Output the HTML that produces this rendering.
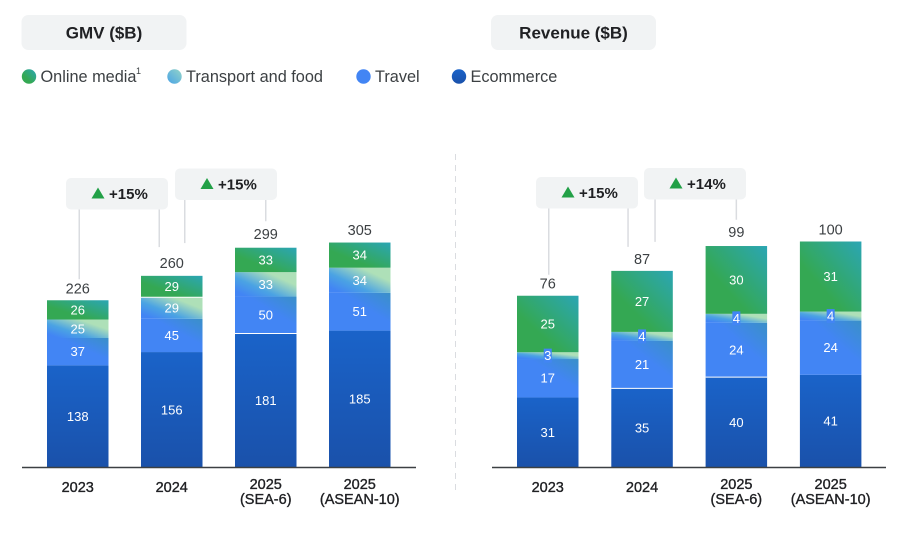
<!DOCTYPE html>
<html>
<head>
<meta charset="utf-8">
<title>GMV and Revenue by sector</title>
<style>
html,body{margin:0;padding:0;background:#fff;}
svg{display:block;font-family:"Liberation Sans",sans-serif;}
</style>
</head>
<body>
<svg id="chart" xmlns="http://www.w3.org/2000/svg" width="907" height="538" viewBox="0 0 907 538">
  <defs>
    <linearGradient id="g-media" x1="0" y1="1" x2="1" y2="0"><stop offset="0.35" stop-color="#34a853"/><stop offset="1" stop-color="#2ba6b4"/></linearGradient>
    <linearGradient id="g-transport" x1="0.2" y1="1" x2="1" y2="0.3"><stop offset="0" stop-color="#4285f4"/><stop offset="0.35" stop-color="#4ba3e3"/><stop offset="0.85" stop-color="#aee0b8"/></linearGradient>
    <linearGradient id="g-transport-dot" x1="0" y1="1" x2="1" y2="0"><stop offset="0" stop-color="#4aa3e6"/><stop offset="1" stop-color="#93d4c8"/></linearGradient>
    <linearGradient id="g-travel" x1="0" y1="1" x2="1" y2="0"><stop offset="0.6" stop-color="#4285f4"/><stop offset="1" stop-color="#3a90c8"/></linearGradient>
    <linearGradient id="g-ecom" x1="0" y1="0" x2="0" y2="1"><stop offset="0" stop-color="#1a63c9"/><stop offset="1" stop-color="#1a51aa"/></linearGradient>
  </defs>
</svg>
<script>
// Shared categories
const categories = [["2023"], ["2024"], ["2025", "(SEA-6)"], ["2025", "(ASEAN-10)"]];
const seriesNames = ["Ecommerce", "Travel", "Transport and food", "Online media"];

// GMV ($B)
const gmvEcommerce = [138, 156, 181, 185];
const gmvTravel = [37, 45, 50, 51];
const gmvTransport = [25, 29, 33, 34];
const gmvMedia = [26, 29, 33, 34];
const gmvTotals = [226, 260, 299, 305];
const gmvGrowth = ["+15%", "+15%"];

// Revenue ($B)
const revEcommerce = [31, 35, 40, 41];
const revTravel = [17, 21, 24, 24];
const revTransport = [3, 4, 4, 4];
const revMedia = [25, 27, 30, 31];
const revTotals = [76, 87, 99, 100];
const revGrowth = ["+15%", "+14%"];

const NS = "http://www.w3.org/2000/svg";
const svg = document.getElementById("chart");
const fills = ["url(#g-ecom)", "url(#g-travel)", "url(#g-transport)", "url(#g-media)"];
const dotFills = ["url(#g-ecom)", "#4285f4", "url(#g-transport-dot)", "url(#g-media)"];
const slugs = ["ecommerce", "travel", "transport-food", "online-media"];
const baseY = 467.5;
const BW = 61.5;

function mk(tag, props, text) {
  const el = document.createElementNS(NS, tag);
  for (const k in props) el.setAttribute(k, props[k]);
  if (text !== undefined) el.textContent = text;
  svg.appendChild(el);
  return el;
}

function drawPanel(cfg) {
  const y = v => baseY - v * cfg.scale;
  const x = i => cfg.x0 + i * cfg.step;
  const cx = i => x(i) + BW / 2;

  const title = mk("rect", {x: cfg.titleX, y: 15, width: 165, height: 35, rx: 7, fill: "#f1f3f4"});
  
  
  const titleText = mk("text", {x: cfg.titleX + 82.5, y: 38.5, "text-anchor": "middle", "font-size": 17, "font-weight": 700, fill: "#202124"}, cfg.title);
  
  

  // connector lines and growth callouts
  cfg.growth.forEach((label, g) => {
    const box = cfg.boxes[g];
    [[g, box.dxA, box.gapA], [g + 1, box.dxB, box.gapB]].forEach(([idx, dx, gap]) => {
      const ln = mk("line", {x1: cx(idx) + dx, x2: cx(idx) + dx, y1: box.y + 31, y2: y(cfg.totals[idx]) - gap, stroke: "#dadce0", "stroke-width": 1.5});
      
      
    });
    const r = mk("rect", {x: box.x, y: box.y, width: 102, height: 31.5, rx: 5, fill: "#f1f3f4"});
    
    
    const tx = box.x + 32, ty = box.y + 15.5;
    const tri = mk("polygon", {points: `${tx - 6.5},${ty + 5} ${tx + 6.5},${ty + 5} ${tx},${ty - 6}`, fill: "#22a047"});
    
    
    const t = mk("text", {x: box.x + 43, y: box.y + 21, "font-size": 15, "font-weight": 700, fill: "#202124"}, label);
    
    
  });

  // stacked bars
  categories.forEach((cat, i) => {
    let acc = 0;
    const labels = [];
    const tops = [];
    cfg.series.forEach((vals, s) => {
      const v = vals[i];
      const yTop = y(acc + v), yBot = y(acc);
      const seg = mk("rect", {x: x(i), y: yTop, width: BW, height: yBot - yTop, fill: fills[s]});
      
      
      labels.push([v, (yTop + yBot) / 2, yBot - yTop]);
      tops.push(yTop);
      acc += v;
    });
    cfg.seams.filter(p => p[0] === i).forEach(p => {
      const seam = mk("line", {x1: x(i), x2: x(i) + BW, y1: tops[p[1]], y2: tops[p[1]], stroke: "#fff", "stroke-width": 1});
      
      
    });
    labels.forEach(([v, my, h]) => {
      if (h < 12) {
        const chip = mk("rect", {x: cx(i) - 4, y: my - 7, width: 8, height: 14, fill: "#4285f4"});
        
        
      }
      const t = mk("text", {x: cx(i), y: my + 4.5, "text-anchor": "middle", "font-size": 13, fill: "#fff"}, v);
      
      
    });
    const tot = mk("text", {x: cx(i), y: y(cfg.totals[i]) - 7, "text-anchor": "middle", "font-size": 14.5, fill: "#3c4043"}, cfg.totals[i]);
    
    

    cat.forEach((line, n) => {
      const by = cat.length === 1 ? 492 : 489 + n * 15;
      const c = mk("text", {x: cx(i), y: by, "text-anchor": "middle", "font-size": 14.5, fill: "#202124", stroke: "#202124", "stroke-width": 0.35}, line);
      
      
    });
  });

  const axis = mk("line", {x1: cfg.axisX, x2: cfg.axisX + 394, y1: baseY, y2: baseY, stroke: "#3c4043", "stroke-width": 1.5});
  
  
}

drawPanel({
  key: "gmv", title: "GMV ($B)", titleX: 21.5, axisX: 22, x0: 47, step: 94, scale: 0.74,
  series: [gmvEcommerce, gmvTravel, gmvTransport, gmvMedia], totals: gmvTotals, growth: gmvGrowth,
  seams: [[2, 0], [1, 2]],
  boxes: [
    {x: 66, y: 178, dxA: 1.5, gapA: 21, dxB: -12.5, gapB: 28},
    {x: 175, y: 168.5, dxA: 13, gapA: 32, dxB: 0, gapB: 25}
  ]
});
drawPanel({
  key: "revenue", title: "Revenue ($B)", titleX: 491, axisX: 492, x0: 517, step: 94.3, scale: 2.26,
  series: [revEcommerce, revTravel, revTransport, revMedia], totals: revTotals, growth: revGrowth,
  seams: [[1, 0], [2, 0]],
  boxes: [
    {x: 536, y: 177, dxA: 1, gapA: 21, dxB: -14, gapB: 24},
    {x: 644, y: 168, dxA: 13, gapA: 29, dxB: 0, gapB: 24}
  ]
});

const divider = mk("line", {x1: 455.5, x2: 455.5, y1: 154, y2: 495, stroke: "#dadce0", "stroke-width": 1, "stroke-dasharray": "6 5"});



// legend
const legendOrder = [3, 2, 1, 0];
const legendDotX = [29, 174.5, 363.5, 459];
legendOrder.forEach((s, n) => {
  const dot = mk("circle", {cx: legendDotX[n], cy: 76.5, r: 7.2, fill: dotFills[s]});
  
  
  const t = mk("text", {x: legendDotX[n] + 11.5, y: 82, "font-size": 16.3, fill: "#3c4043"}, seriesNames[s]);
  
  
});
const sup = mk("text", {x: 136, y: 74, "font-size": 9, fill: "#3c4043"}, "1");


</script>
</body>
</html>
